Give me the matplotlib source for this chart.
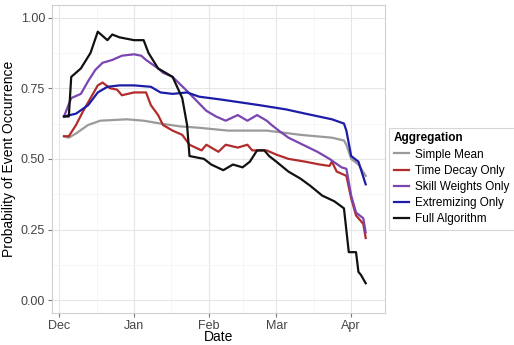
import numpy as np
import pandas as pd
import matplotlib
matplotlib.use("Agg")
import matplotlib.pyplot as plt

plt.rcParams["font.family"] = ["Liberation Sans", "DejaVu Sans"]

# days since 1 Dec 2014
start = pd.Timestamp("2014-12-01")

mean_days = [2, 4, 7, 12, 17, 28, 35, 42, 50, 58, 70, 86, 100, 113, 118, 119, 121, 124, 127]
mean_vals = [0.58, 0.575, 0.59, 0.62, 0.635, 0.64, 0.635, 0.625, 0.615, 0.61, 0.60, 0.60,
             0.585, 0.575, 0.565, 0.55, 0.50, 0.48, 0.44]

decay_days = [2, 4, 7, 10, 13, 16, 18, 21, 24, 26, 31, 36, 38, 41, 43, 47, 51, 54, 59, 61,
              66, 69, 74, 78, 80, 86, 90, 95, 102, 108, 112, 113, 115, 119, 121, 123, 126, 127]
decay_vals = [0.58, 0.58, 0.62, 0.67, 0.715, 0.76, 0.77, 0.75, 0.745, 0.725, 0.735, 0.735,
              0.69, 0.655, 0.62, 0.60, 0.585, 0.55, 0.53, 0.55, 0.525, 0.55, 0.54, 0.55,
              0.53, 0.53, 0.515, 0.50, 0.49, 0.48, 0.475, 0.49, 0.455, 0.44, 0.36, 0.30,
              0.27, 0.22]

skill_days = [2, 5, 9, 12, 15, 18, 22, 26, 31, 34, 36, 41, 43, 47, 53, 57, 61, 65, 69, 74,
              78, 82, 86, 88, 91, 95, 101, 107, 112, 117, 119, 121, 123, 126, 127]
skill_vals = [0.65, 0.715, 0.73, 0.775, 0.815, 0.84, 0.85, 0.865, 0.87, 0.865, 0.85, 0.82,
              0.805, 0.79, 0.74, 0.705, 0.67, 0.65, 0.635, 0.655, 0.635, 0.655, 0.635, 0.62,
              0.60, 0.575, 0.55, 0.525, 0.50, 0.47, 0.465, 0.37, 0.31, 0.29, 0.24]

extr_days = [2, 7, 12, 16, 20, 25, 31, 38, 42, 47, 53, 58, 67, 83, 94, 102, 113, 118, 119,
             121, 124, 127]
extr_vals = [0.65, 0.66, 0.69, 0.735, 0.755, 0.76, 0.76, 0.755, 0.735, 0.73, 0.735, 0.72,
             0.71, 0.69, 0.675, 0.66, 0.64, 0.625, 0.60, 0.51, 0.49, 0.41]

full_days = [2, 4, 5, 9, 13, 16, 20, 22, 25, 31, 35, 37, 41, 45, 47, 51, 53, 54, 60, 63, 68,
             72, 76, 79, 82, 85, 87, 90, 95, 100, 104, 109, 114, 118, 120, 123, 124, 125, 127]
full_vals = [0.65, 0.65, 0.79, 0.82, 0.875, 0.95, 0.92, 0.94, 0.93, 0.92, 0.92, 0.875, 0.82,
             0.80, 0.79, 0.715, 0.62, 0.51, 0.50, 0.48, 0.46, 0.48, 0.47, 0.49, 0.53, 0.53,
             0.51, 0.49, 0.455, 0.43, 0.405, 0.37, 0.35, 0.325, 0.17, 0.17, 0.10, 0.09, 0.06]

labels = ["Simple Mean", "Time Decay Only", "Skill Weights Only", "Extremizing Only", "Full Algorithm"]
colors = ["#9a9a9a", "#b22c2c", "#7a45b0", "#1c1ca8", "#111111"]
series = [(mean_days, mean_vals), (decay_days, decay_vals), (skill_days, skill_vals),
          (extr_days, extr_vals), (full_days, full_vals)]

month_ticks = ["2014-12-01", "2015-01-01", "2015-02-01", "2015-03-01", "2015-04-01"]
month_labels = ["Dec", "Jan", "Feb", "Mar", "Apr"]

fig = plt.figure(figsize=(5.14, 3.45), dpi=100)
ax = fig.add_axes([0.101, 0.093, 0.648, 0.893])

for (d, v), lab, c in zip(series, labels, colors):
    x = start + pd.to_timedelta(d, unit="D")
    ax.plot(x, v, color=c, lw=1.6, label=lab)

ax.set_xlim(start - pd.Timedelta(days=3), start + pd.Timedelta(days=135))
ax.set_ylim(-0.045, 1.045)

mt = pd.to_datetime(month_ticks)
ax.set_xticks(mt)
ax.set_xticklabels(month_labels)
mids = [mt[i] + (mt[i + 1] - mt[i]) / 2 for i in range(len(mt) - 1)]
ax.set_xticks(mids, minor=True)
ax.set_yticks([0, 0.25, 0.5, 0.75, 1.0])
ax.set_yticklabels(["0.00", "0.25", "0.50", "0.75", "1.00"])
ax.set_yticks([0.125, 0.375, 0.625, 0.875], minor=True)

ax.grid(True, which="major", color="#e6e6e6", lw=0.8)
ax.grid(True, which="minor", color="#f3f3f3", lw=0.5)
ax.set_axisbelow(True)
for s in ax.spines.values():
    s.set_color("#d0d0d0")
    s.set_linewidth(0.8)
ax.tick_params(which="major", length=3, color="#777777", labelsize=9, labelcolor="#444444", pad=2)
ax.tick_params(which="minor", length=0)

ax.set_xlabel("Date", fontsize=10, labelpad=-1)
ax.set_ylabel("Probability of Event Occurrence", fontsize=10, labelpad=3)

leg = fig.legend(loc="upper left", bbox_to_anchor=(0.757, 0.63), title="Aggregation",
                 fontsize=8.5, title_fontproperties={"weight": "bold", "size": 8.5},
                 frameon=True, fancybox=False, handlelength=1.3, borderpad=0.4,
                 labelspacing=0.35, handletextpad=0.5, alignment="left",
                 borderaxespad=0)
leg.get_frame().set_edgecolor("#cccccc")
leg.get_frame().set_linewidth(0.8)

fig.savefig("out.png", dpi=100)
